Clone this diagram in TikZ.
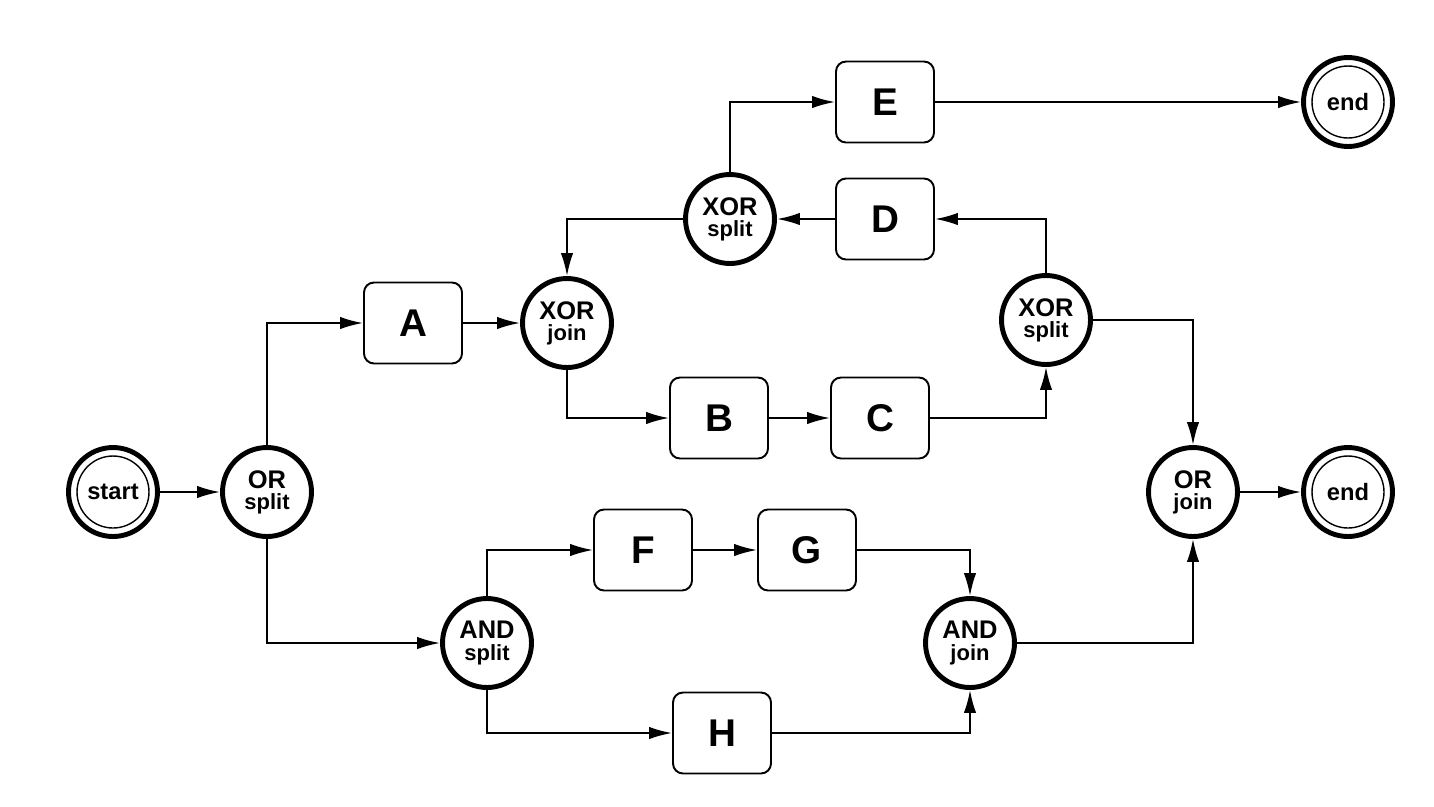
\documentclass[tikz,border=0pt]{standalone}
\usepackage{fontspec}
\setmainfont{Liberation Sans}
\usepackage{tikz}
\usetikzlibrary{arrows.meta, calc}

% two-line label of a gateway
\newcommand{\gatelabel}[2]{{\fontsize{14.5}{12.5}\selectfont\bfseries #1}\\{\fontsize{12.5}{12.5}\selectfont\bfseries #2}}

\tikzset{
  task/.style={draw, rounded corners=0.2cm, line width=1.1pt, minimum width=1.96cm,
    minimum height=1.62cm, font=\fontsize{22}{22}\selectfont\bfseries},
  gate/.style={draw, circle, line width=2.8pt, minimum size=1.78cm, inner sep=0pt,
    align=center},
  terminal/.style={draw, circle, line width=2.8pt, minimum size=1.78cm, inner sep=0pt,
    font=\fontsize{13.5}{13.5}\selectfont\bfseries,
    path picture={\draw[line width=0.8pt] (path picture bounding box.center) circle (0.72cm);}},
  flow/.style={line width=1.1pt, -{Latex[length=13pt, width=7pt]}}
}

\begin{document}
\begin{tikzpicture}[x=0.02cm, y=-0.02cm]
      \useasboundingbox (0,0) rectangle (1434,806);

      % start and the OR split
      \node[terminal] (start) at (113,492) {start};
      \node[gate] (orsplit) at (267,492) {\gatelabel{OR}{split}};

      % upper branch
      \node[task] (A) at (413,323) {A};
      \node[gate] (xorjoin) at (567,323) {\gatelabel{XOR}{join}};
      \node[task] (B) at (719,418) {B};
      \node[task] (C) at (880,418) {C};
      \node[gate] (xorsplitR) at (1046,320) {\gatelabel{XOR}{split}};
      \node[task] (D) at (885,219) {D};
      \node[gate] (xorsplitT) at (730,219) {\gatelabel{XOR}{split}};
      \node[task] (E) at (885,102) {E};
      \node[terminal] (endT) at (1348,102) {end};

      % lower branch
      \node[gate] (andsplit) at (487,643) {\gatelabel{AND}{split}};
      \node[task] (F) at (643,550) {F};
      \node[task] (G) at (807,550) {G};
      \node[task] (H) at (722,733) {H};
      \node[gate] (andjoin) at (970,643) {\gatelabel{AND}{join}};

      % OR join and end
      \node[gate] (orjoin) at (1193,492) {\gatelabel{OR}{join}};
      \node[terminal] (endB) at (1348,492) {end};

      % connectors
      \draw[flow] (start) -- (orsplit);
      \draw[flow] (orsplit.north) |- (A.west);
      \draw[flow] (orsplit.south) |- (andsplit.west);
      \draw[flow] (A) -- (xorjoin);
      \draw[flow] (xorjoin.south) |- (B.west);
      \draw[flow] (B) -- (C);
      \draw[flow] (C.east) -| (xorsplitR.south);
      \draw[flow] (xorsplitR.north) |- (D.east);
      \draw[flow] (xorsplitR.east) -| (orjoin.north);
      \draw[flow] (D) -- (xorsplitT);
      \draw[flow] (xorsplitT.west) -| (xorjoin.north);
      \draw[flow] (xorsplitT.north) |- (E.west);
      \draw[flow] (E) -- (endT);
      \draw[flow] (andsplit.north) |- (F.west);
      \draw[flow] (F) -- (G);
      \draw[flow] (G.east) -| (andjoin.north);
      \draw[flow] (andsplit.south) |- (H.west);
      \draw[flow] (H.east) -| (andjoin.south);
      \draw[flow] (andjoin.east) -| (orjoin.south);
      \draw[flow] (orjoin) -- (endB);
\end{tikzpicture}
\end{document}
